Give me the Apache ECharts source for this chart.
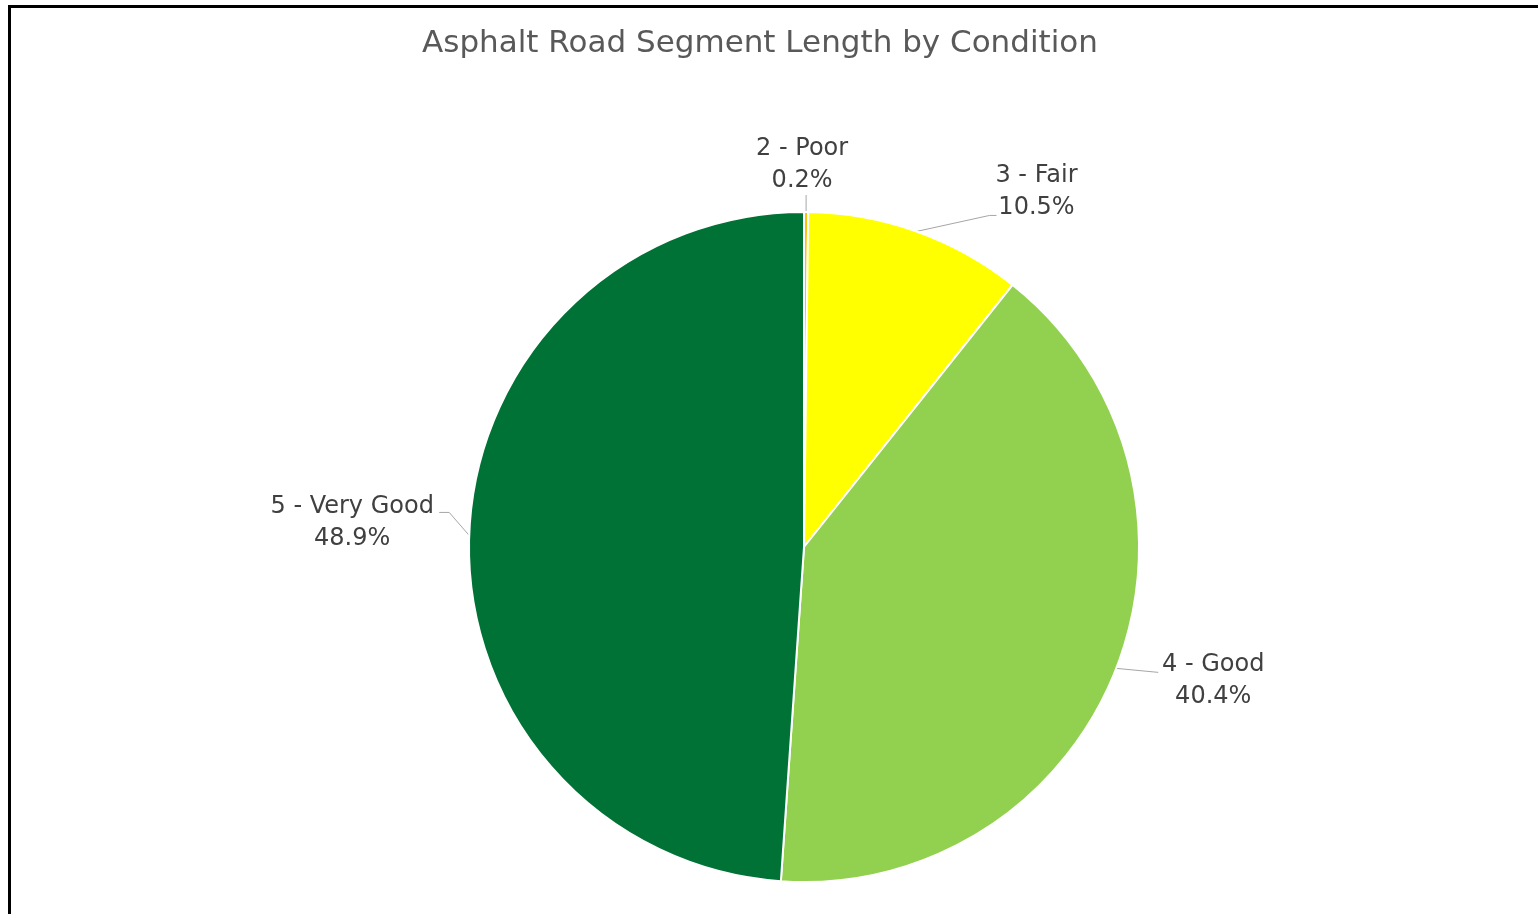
<!DOCTYPE html>
<html>
<head>
<meta charset="utf-8">
<script src="https://cdn.jsdelivr.net/npm/echarts@6/dist/echarts.min.js"></script>
<style>
  html, body { margin: 0; padding: 0; background: #fff; }
  #chart { position: absolute; left: 0; top: 0; width: 1538px; height: 914px; }
  #frame { position: absolute; left: 8px; top: 5px; width: 1600px; height: 1000px;
           border-top: 3px solid #000; border-left: 3px solid #000; pointer-events: none; }
</style>
</head>
<body>
<div id="chart"></div>
<div id="frame"></div>
<script>
const titleText = 'Asphalt Road Segment Length by Condition';
const categories = ['2 - Poor', '3 - Fair', '4 - Good', '5 - Very Good'];
const percents = [0.2, 10.5, 40.4, 48.9];
const colors = ['#FFC000', '#FFFF00', '#92D050', '#007236'];

const FONT = '"DejaVu Sans", sans-serif';
// leader-line bends (relative to slice edge point) and label offset from leader end
const placement = [
  { lead: [[0, -17]], off: [-4, -30] },
  { lead: [[73, -16], [80, -16]], off: [40, -24] },
  { lead: [[42, 4]], off: [55, 8] },
  { lead: [[-20, -23], [-30, -23]], off: [-87, 10] }
];

const chart = echarts.init(document.getElementById('chart'));
chart.setOption({
  backgroundColor: '#fff',
  title: {
    text: titleText,
    left: 755,
    textAlign: 'center',
    top: 23,
    textStyle: { fontFamily: FONT, fontSize: 31, fontWeight: 'normal', color: '#595959' }
  },
  series: [{
    type: 'pie',
    center: [804, 547],
    radius: 335,
    startAngle: 90,
    clockwise: true,
    avoidLabelOverlap: false,
    itemStyle: { borderColor: '#fff', borderWidth: 2 },
    label: {
      show: true,
      position: 'outside',
      formatter: p => p.name + '\n' + p.value.toFixed(1) + '%',
      fontFamily: FONT,
      fontSize: 24,
      lineHeight: 32,
      color: '#404040'
    },
    labelLine: { show: true, length: 20, length2: 20, lineStyle: { color: '#A6A6A6', width: 1 } },
    labelLayout: function (params) {
      const pl = placement[params.dataIndex];
      const lp = params.labelLinePoints;
      if (!pl || !lp || !lp[0]) return {};
      const p0 = [lp[0][0], lp[0][1]];
      const pts = [p0];
      pl.lead.forEach(v => pts.push([p0[0] + v[0], p0[1] + v[1]]));
      while (pts.length < 3) pts.push(pts[pts.length - 1].slice());
      const end = pts[pts.length - 1];
      return {
        x: end[0] + pl.off[0],
        y: end[1] + pl.off[1],
        align: 'center',
        verticalAlign: 'middle',
        labelLinePoints: pts
      };
    },
    emphasis: { disabled: true },
    data: categories.map((c, i) => ({
      name: c,
      value: percents[i],
      itemStyle: { color: colors[i] }
    }))
  }]
});
</script>
</body>
</html>
